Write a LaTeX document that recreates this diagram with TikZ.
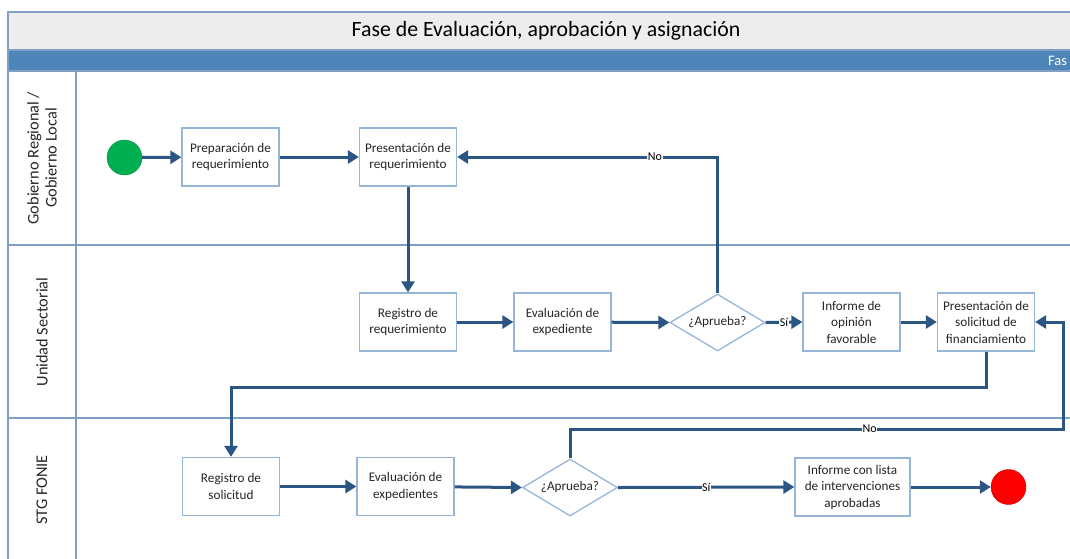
\documentclass[tikz,border=0pt]{standalone}
\usepackage{fontspec}
\setmainfont{Carlito}
\usetikzlibrary{arrows.meta,shapes.geometric}
\definecolor{flow}{HTML}{2B5582}
\definecolor{lanec}{HTML}{7FA0C4}
\definecolor{boxb}{HTML}{95B6D9}
\definecolor{bandc}{HTML}{4F86B9}
\definecolor{titlec}{HTML}{EDEDED}
\definecolor{startc}{HTML}{00B050}
\definecolor{endc}{HTML}{FF0000}
\definecolor{txt}{HTML}{262626}
\begin{document}
\begin{tikzpicture}[x=1pt,y=-1pt,
  task/.style={draw=boxb, line width=1.3pt, fill=white, minimum width=97pt, minimum height=58pt,
    align=center, text=txt, font=\fontsize{13.2}{16.5}\selectfont, inner sep=2pt},
  dec/.style={diamond, aspect=1.667, draw=boxb, line width=1.3pt, fill=white, minimum width=95pt, minimum height=57pt,
    inner sep=0pt, text=txt, font=\fontsize{13.2}{15}\selectfont},
  flowline/.style={draw=flow, line width=3pt, -{Triangle[length=11pt,width=13pt]}},
  lbl/.style={fill=white, inner sep=0.6pt, text=black, font=\fontsize{12}{13}\selectfont},
  lanelbl/.style={rotate=90, align=center, text=txt, font=\fontsize{16.3}{18}\selectfont},
  laneline/.style={draw=lanec, line width=1.2pt}
]
\useasboundingbox (0,0) rectangle (1070,558);
\clip (0,0) rectangle (1070,558);
% pool
\fill[titlec] (8,12) rectangle (1080,50);
\fill[bandc] (8,50) rectangle (1080,71);
\draw[laneline] (8,570) -- (8,12) -- (1080,12);
\draw[laneline] (8,50) -- (1080,50);
\draw[laneline] (8,71) -- (1080,71);
\draw[laneline] (8,245) -- (1080,245);
\draw[laneline] (8,418) -- (1080,418);
\draw[laneline] (76,71) -- (76,570);
\node[text=black, font=\fontsize{21.8}{24}\selectfont] (title) at (546,31) {Fase de Evaluación, aprobación y asignación};
\node[anchor=west, text=white, font=\fontsize{14.5}{16}\selectfont, inner sep=0pt] (fas) at (1048,60.5) {Fas};
% lane labels
\node[lanelbl] (l1) at (42,158) {Gobierno Regional /\\Gobierno Local};
\node[lanelbl] (l2) at (42,332) {Unidad Sectorial};
\node[lanelbl] (l3) at (42,490) {STG FONIE};
% nodes
\node[circle, fill=startc, draw=startc!80!black, line width=0.4pt, minimum size=35pt, inner sep=0pt] (start) at (124.5,157.5) {};
\node[task] (prep) at (230.5,157) {Preparación de\\requerimiento};
\node[task] (pres) at (408,157) {Presentación de\\requerimiento};
\node[task] (regreq) at (408,322) {Registro de\\requerimiento};
\node[task] (evalexp) at (562.5,322) {Evaluación de\\expediente};
\node[dec] (dec1) at (717.5,322.5) {¿Aprueba?};
\node[task] (inf) at (851.5,322) {Informe de\\opinión\\favorable};
\node[task] (pressol) at (986,322) {Presentación de\\solicitud de\\financiamiento};
\node[task] (regsol) at (231,486.5) {Registro de\\solicitud};
\node[task] (evalexps) at (405.5,486.5) {Evaluación de\\expedientes};
\node[dec] (dec2) at (570,487.5) {¿Aprueba?};
\node[task, minimum width=115pt] (infl) at (852.5,487) {Informe con lista\\de intervenciones\\aprobadas};
\node[circle, fill=endc, draw=endc!80!black, line width=0.4pt, minimum size=35pt, inner sep=0pt] (end) at (1008.5,487) {};
\coordinate (c1) at (986,387);
\coordinate (c2) at (1063,429);
% connectors
\draw[flowline] (start) -- (prep);
\draw[flowline] (prep) -- (pres);
\draw[flowline] (dec1.north) |- node[lbl, pos=0.62] {No} (pres.east);
\draw[flowline] (pres) -- (regreq);
\draw[flowline] (regreq) -- (evalexp);
\draw[flowline] (evalexp) -- (dec1.west);
\draw[flowline] (dec1.east) -- node[lbl, pos=0.5] {Sí} (inf.west);
\draw[flowline] (inf) -- (pressol);
\draw[flowline] (pressol.south) -- (c1) -| (regsol.north);
\draw[flowline] (regsol) -- (evalexps);
\draw[flowline] (evalexps) -- (dec2.west);
\draw[flowline] (dec2.east) -- node[lbl, pos=0.5] {Sí} (infl.west);
\draw[flowline] (dec2.north) |- (c2) |- (pressol.east);
\path (dec2.north) |- node[lbl, pos=0.804] {No} (c2);
\draw[flowline] (infl) -- (end);
\end{tikzpicture}
\end{document}
